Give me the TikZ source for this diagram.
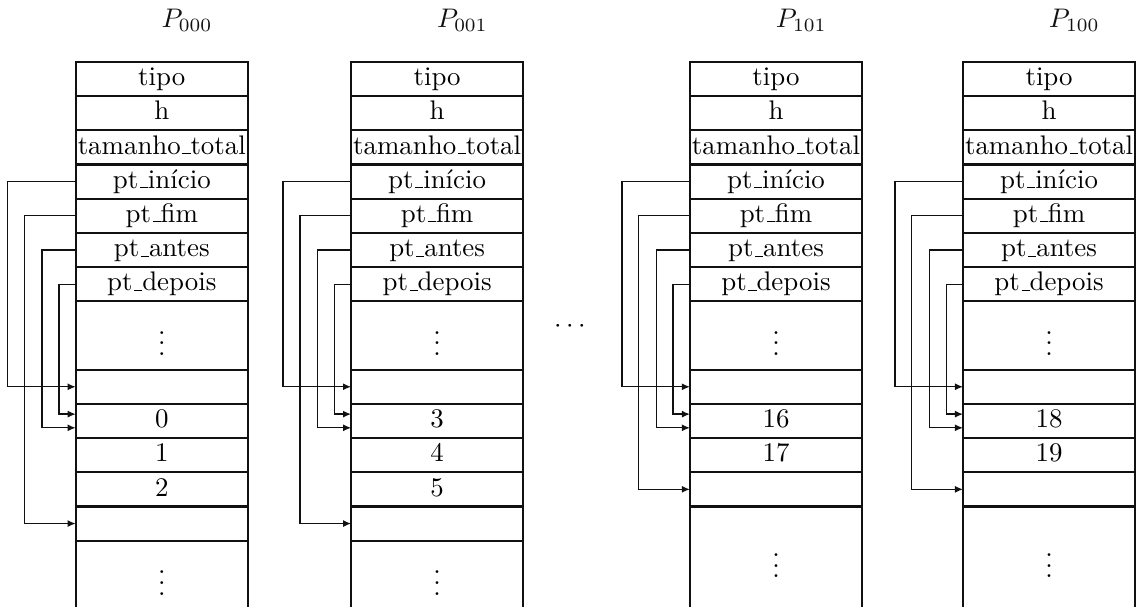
\documentclass[tikz,border=0pt]{standalone}
\usepackage{amsmath,amssymb}
\usepackage{tikz}
\usepackage{xcolor}
\usetikzlibrary{arrows.meta,positioning,calc}
\definecolor{ink}{HTML}{111111}
% short low rule, as the old \_ of Computer Modern
\newcommand\sublinha{\leavevmode\kern.06em\vbox{\hrule width.3em height.4pt}}
\tikzset{
  caixa/.style={draw=ink,line width=0.8pt,anchor=north west,
                minimum width=2.25cm,minimum height=0.447cm,
                inner sep=0pt,outer sep=0pt},
  campo/.style={caixa,text height=1.6ex,text depth=0.45ex},
  titulo/.style={inner sep=0pt,text=ink},
  ponteiro/.style={-{Latex[length=3pt,width=2.6pt]},line width=0.5pt,
                   draw=ink}
}

\begin{document}
\begin{tikzpicture}
  \useasboundingbox (0,0) rectangle (14.93,-7.934);
  % one column per processor: name / left edge / label / values / free slot
  \foreach \pc/\x/\idx/\valores/\livre in
      {a/0.99/000/{0,1,2}/13, b/4.59/001/{3,4,5}/13,
       c/9.02/101/{16,17}/12, d/12.59/100/{18,19}/12} {
    \node[titulo] (\pc-tit) at ({\x+1.455},-0.27) {$P_{\idx}$};
    \foreach \nome [count=\i from 0] in
        {tipo,h,tamanho\sublinha total,pt\sublinha in\'icio,pt\sublinha fim,
         pt\sublinha antes,pt\sublinha depois}
      \node[campo] (\pc-\i) at (\x,{-0.81-\i*0.447}) {\nome};
    \node[caixa,minimum height=0.894cm] (\pc-7) at (\x,-3.939) {$\vdots$};
    \node[campo] (\pc-9) at (\x,-4.833) {};
    \foreach \v [count=\k from 10] in \valores
      \node[campo] (\pc-\k) at (\x,{-0.81-\k*0.447}) {\v};
    \node[campo] (\pc-\livre) at (\x,{-0.81-\livre*0.447}) {};
    \pgfmathsetmacro\resto{(15-\livre)*0.447}
    \node[caixa,minimum height=\resto cm] (\pc-fim)
      at (\x,{-0.81-(\livre+1)*0.447}) {$\vdots$};
    % pointers
    \draw[ponteiro] (\pc-3.west) -- ++(-0.89,0) |- (\pc-9.west);
    \draw[ponteiro] (\pc-4.west) -- ++(-0.67,0) |- (\pc-\livre.west);
    \draw[ponteiro] (\pc-5.west) -- ++(-0.44,0)
      |- ($(\pc-10.north west)!0.7!(\pc-10.south west)$);
    \draw[ponteiro] (\pc-6.west) -- ++(-0.22,0)
      |- ($(\pc-10.north west)!0.3!(\pc-10.south west)$);
  }
  \node (entre) at (7.48,-4.27) {$\cdots$};
\end{tikzpicture}
\end{document}
